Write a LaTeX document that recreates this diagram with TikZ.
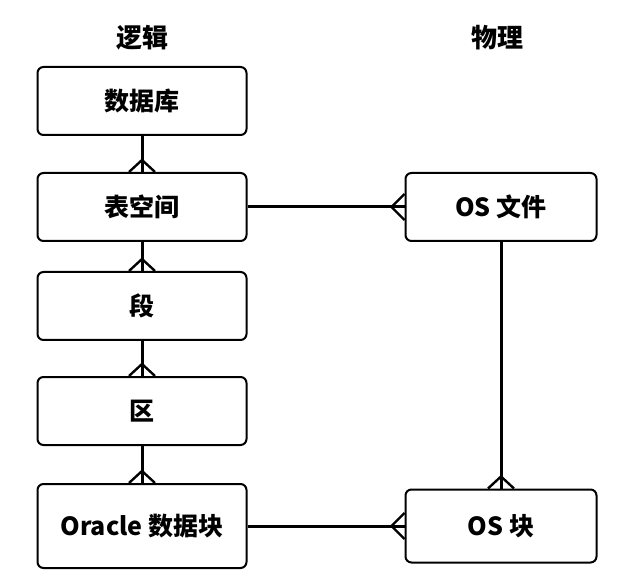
\documentclass[tikz,border=0pt]{standalone}
\usepackage{fontspec}
\newfontfamily\cjk{Noto Sans CJK SC}
\begin{document}
\begin{tikzpicture}[x=1pt, y=-1pt]
  \tikzstyle{box}=[draw, rounded corners=6pt, line width=2pt, inner sep=0pt,
    minimum width=209pt, minimum height=68pt, font=\cjk\bfseries\fontsize{25}{27}\selectfont]
  \tikzstyle{phys}=[minimum width=191pt]
  \tikzstyle{title}=[font=\cjk\bfseries\fontsize{26}{28}\selectfont]
  \tikzstyle{link}=[line width=3pt]
  \tikzstyle{foot}=[line width=2.4pt]

  \useasboundingbox (0,0) rectangle (624,585);

  \node[title] (logic) at (142, 38) {逻辑};
  \node[title] (phy)   at (497, 38) {物理};

  \node[box]       (db)  at (142, 101) {数据库};
  \node[box]       (ts)  at (142, 207) {表空间};
  \node[box]       (seg) at (142, 306) {段};
  \node[box]       (ext) at (142, 411) {区};
  \node[box, minimum height=84pt] (blk) at (142, 526) {Oracle 数据块};
  \node[box, phys] (osf) at (501, 207) {OS 文件};
  \node[box, phys, minimum height=73pt] (osb) at (501, 526) {OS 块};

  \draw[link] (db) -- (ts);
  \draw[link] (ts) -- (seg);
  \draw[link] (seg) -- (ext);
  \draw[link] (ext) -- (blk);
  \draw[link] (ts) -- (osf);
  \draw[link] (osf) -- (osb);
  \draw[link] (blk) -- (osb);

  % crow's feet
  \draw[foot] ([xshift=-13pt]ts.north)  -- ([yshift=12pt]ts.north)  -- ([xshift=13pt]ts.north);
  \draw[foot] ([xshift=-13pt]seg.north) -- ([yshift=12pt]seg.north) -- ([xshift=13pt]seg.north);
  \draw[foot] ([xshift=-13pt]ext.north) -- ([yshift=12pt]ext.north) -- ([xshift=13pt]ext.north);
  \draw[foot] ([xshift=-13pt]blk.north) -- ([yshift=12pt]blk.north) -- ([xshift=13pt]blk.north);
  \draw[foot] ([xshift=-13pt]osb.north) -- ([yshift=12pt]osb.north) -- ([xshift=13pt]osb.north);
  \draw[foot] ([yshift=13pt]osf.west) -- ([xshift=-13pt]osf.west) -- ([yshift=-13pt]osf.west);
  \draw[foot] ([yshift=13pt]osb.west) -- ([xshift=-13pt]osb.west) -- ([yshift=-13pt]osb.west);
\end{tikzpicture}
\end{document}
